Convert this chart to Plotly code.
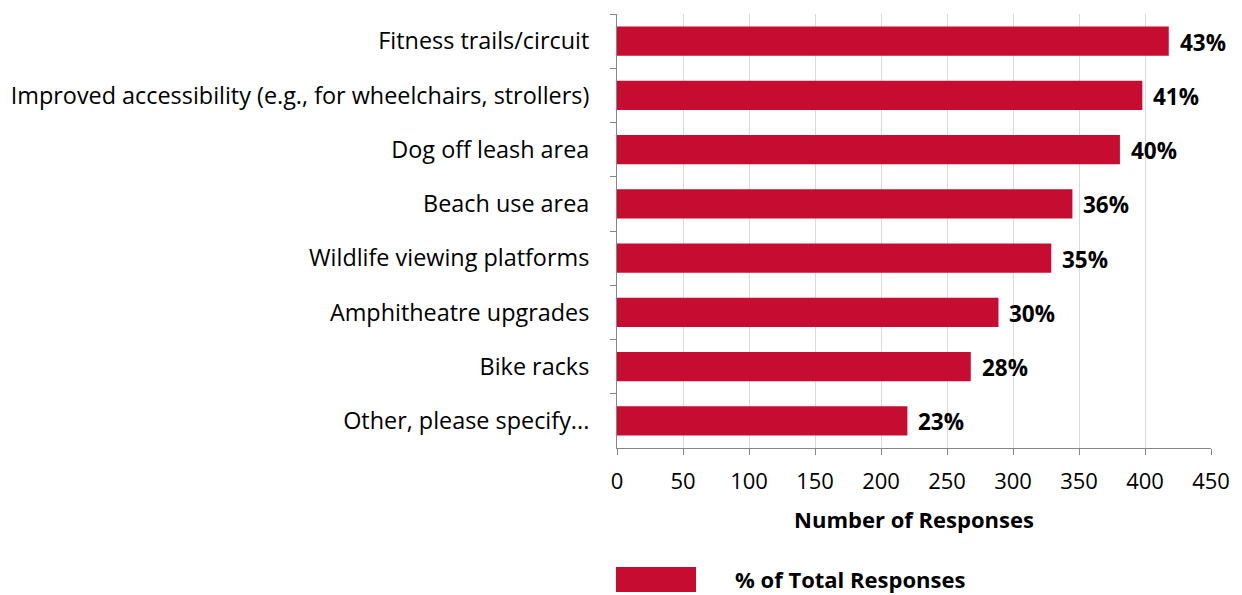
import plotly.graph_objects as go

categories = [
    "Fitness trails/circuit",
    "Improved accessibility (e.g., for wheelchairs, strollers)",
    "Dog off leash area",
    "Beach use area",
    "Wildlife viewing platforms",
    "Amphitheatre upgrades",
    "Bike racks",
    "Other, please specify...",
]
responses = [418, 398, 381, 345, 329, 289, 268, 220]
pct_labels = ["43%", "41%", "40%", "36%", "35%", "30%", "28%", "23%"]
x_ticks = [0, 50, 100, 150, 200, 250, 300, 350, 400, 450]

BAR = "#C60C30"
FONT = "'Open Sans', sans-serif"

fig = go.Figure()
fig.add_trace(go.Bar(
    x=responses, y=categories, orientation="h",
    marker=dict(color=BAR, line=dict(width=0)),
    width=0.54, showlegend=False, hoverinfo="x+y",
))

for c, v, t in zip(categories, responses, pct_labels):
    fig.add_annotation(x=v, y=c, text="<b>%s</b>" % t, showarrow=False,
                       xanchor="left", yanchor="middle", xshift=9, yshift=-1,
                       font=dict(size=22.5, color="#000000", family=FONT))

# legend drawn as swatch + label
fig.add_shape(type="rect", xref="paper", yref="paper",
              x0=-0.0017, x1=0.133, y0=-0.3318, y1=-0.2742,
              fillcolor=BAR, line=dict(width=0))
fig.add_annotation(xref="paper", yref="paper", x=0.1953, y=-0.3018,
                   text="<b>% of Total Responses</b>", showarrow=False,
                   xanchor="left", yanchor="middle",
                   font=dict(size=22, color="#000000", family=FONT))

fig.update_layout(
    width=1234, height=587,
    margin=dict(l=609, r=31, t=6, b=147, autoexpand=False),
    paper_bgcolor="white", plot_bgcolor="white",
    font=dict(family=FONT, size=22, color="#000000"),
    bargap=0.46,
    xaxis=dict(
        range=[0, 450], tickvals=x_ticks, ticktext=[str(v) for v in x_ticks],
        automargin=False,
        showgrid=True, gridcolor="#D9D9D9", gridwidth=1,
        showline=True, linecolor="#868686", linewidth=1,
        ticks="outside", ticklen=6, tickcolor="#868686",
        ticklabelstandoff=8,
        tickfont=dict(size=22, family=FONT),
        zeroline=False,
        title=dict(text="<b>Number of Responses</b>", standoff=18,
                   font=dict(size=22, family=FONT)),
    ),
    yaxis=dict(
        autorange="reversed", type="category",
        automargin=False,
        showline=True, linecolor="#868686", linewidth=1,
        ticks="outside", ticklen=6, tickcolor="#868686",
        tickson="boundaries", showgrid=False,
        ticklabelstandoff=22,
        tickfont=dict(size=23.4, family=FONT),
    ),
)

fig.write_html("out.html")
